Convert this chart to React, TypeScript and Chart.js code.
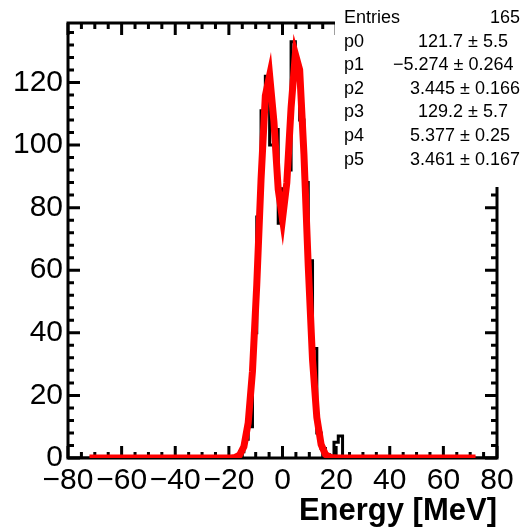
import React, { useEffect, useRef } from "react";
import { Chart, registerables } from "chart.js";

Chart.register(...registerables);

// ---------------- data ----------------
const X_MIN = -80;
const X_MAX = 80;
const N_BINS = 100; // 1.6 MeV bins
const Y_MAX = 139;

// bin contents (100 bins, -80 .. 80)
const binContents = [
  0, 0, 0, 0, 0, 0, 0, 0, 0, 0, // -80 .. -64
  0, 0, 0, 0, 0, 0, 0, 0, 0, 0, // -64 .. -48
  0, 0, 0, 0, 0, 0, 0, 0, 0, 0, // -48 .. -32
  0, 0, 0, 0, 0, 0, 0, 0, 0, 0, // -32 .. -16
  2, 6, 10, 40, 77, 111, 122, 100, 105, 75, // -16 .. 0
  86, 92, 133, 121, 108, 88, 63, 35, 8, 3, // 0 .. 16
  1, 0, 5, 7, 0, 0, 0, 0, 0, 0, // 16 .. 32
  0, 0, 0, 0, 0, 0, 0, 0, 0, 0, // 32 .. 48
  0, 0, 0, 0, 0, 0, 0, 0, 0, 0, // 48 .. 64
  0, 0, 0, 0, 0, 0, 0, 0, 0, 0, // 64 .. 80
];

// fit: double gaussian, parameters as shown in the stats box
const fitParams = [121.7, -5.274, 3.445, 129.2, 5.377, 3.461];
const fitRange = [-72, 72];
const fitNpx = 90;

const xTicks = [-80, -60, -40, -20, 0, 20, 40, 60, 80];
const yTicks = [0, 20, 40, 60, 80, 100, 120];
const xMinorStep = 5;
const yMinorStep = 4;

const xTitle = "Energy [MeV]";
const statNames = ["Entries", "p0", "p1", "p2", "p3", "p4", "p5"];
const statValues = [
  "165",
  "121.7 \u00b1 5.5",
  "\u22125.274 \u00b1 0.264",
  "3.445 \u00b1 0.166",
  "129.2 \u00b1 5.7",
  "5.377 \u00b1 0.25",
  "3.461 \u00b1 0.167",
];

// ---------------- layout / style ----------------
const W = 521;
const H = 527;
const FONT = "'Liberation Sans', Arial, Helvetica, sans-serif";
const statLayout = {
  boxX: 335,
  boxBottom: 187,
  nameX: 344,
  valueX: [490, 418, 393, 410, 418, 410, 410],
  baselines: [23, 47, 70, 94, 117, 141, 165],
  fontSize: 18,
};

const fmt = (v: number) => (v < 0 ? "\u2212" + Math.abs(v) : String(v));

function fitFn(x: number) {
  const [a1, m1, s1, a2, m2, s2] = fitParams;
  return (
    a1 * Math.exp(-0.5 * ((x - m1) / s1) ** 2) +
    a2 * Math.exp(-0.5 * ((x - m2) / s2) ** 2)
  );
}

const rootPlugin = {
  id: "rootStyle",
  beforeDatasetDraw(chart: any) {
    chart.ctx.miterLimit = 20;
  },
  afterDatasetDraw(chart: any, args: any) {
    if (args.index !== 1) return;
    const { ctx, chartArea } = chart;
    const xs = chart.scales.x;
    const ys = chart.scales.y;
    const { left, right, top, bottom } = chartArea;
    ctx.save();
    ctx.strokeStyle = "#000";
    ctx.lineWidth = 3;
    ctx.lineCap = "butt";
    ctx.lineJoin = "miter";
    ctx.beginPath();
    const major = 12;
    const minor = 6;
    for (let v = X_MIN; v <= X_MAX + 1e-9; v += xMinorStep) {
      const px = xs.getPixelForValue(v);
      const len = xTicks.includes(v) ? major : minor;
      ctx.moveTo(px, bottom);
      ctx.lineTo(px, bottom - len);
      ctx.moveTo(px, top);
      ctx.lineTo(px, top + len);
    }
    for (let v = 0; v <= Y_MAX; v += yMinorStep) {
      const py = ys.getPixelForValue(v);
      const len = yTicks.includes(v) ? major : minor;
      ctx.moveTo(left, py);
      ctx.lineTo(left + len, py);
      ctx.moveTo(right, py);
      ctx.lineTo(right - len, py);
    }
    ctx.stroke();
    ctx.strokeRect(left, top, right - left, bottom - top);
    ctx.restore();
  },
  afterDraw(chart: any) {
    const { ctx, chartArea } = chart;
    ctx.save();
    // x title
    ctx.fillStyle = "#000";
    ctx.font = `bold 31px ${FONT}`;
    ctx.textAlign = "right";
    ctx.textBaseline = "alphabetic";
    ctx.fillText(xTitle, chartArea.right, 520);
    // stats box
    ctx.fillStyle = "#fff";
    ctx.fillRect(statLayout.boxX, 0, W - statLayout.boxX, statLayout.boxBottom);
    ctx.fillStyle = "#000";
    ctx.font = `${statLayout.fontSize}px ${FONT}`;
    ctx.textAlign = "left";
    statNames.forEach((n, i) => {
      ctx.fillText(n, statLayout.nameX, statLayout.baselines[i]);
      ctx.fillText(statValues[i], statLayout.valueX[i], statLayout.baselines[i]);
    });
    ctx.restore();
  },
};

export default function App() {
  const ref = useRef<HTMLCanvasElement | null>(null);
  useEffect(() => {
    if (!ref.current) return;
    const binW = (X_MAX - X_MIN) / N_BINS;
    const histPts = binContents.map((v, i) => ({ x: X_MIN + i * binW, y: v }));
    histPts.push({ x: X_MAX, y: binContents[N_BINS - 1] });
    const fitPts: { x: number; y: number }[] = [];
    for (let i = 0; i <= fitNpx; i++) {
      const x = fitRange[0] + ((fitRange[1] - fitRange[0]) * i) / fitNpx;
      fitPts.push({ x, y: fitFn(x) });
    }
    const tickFont = { family: FONT, size: 30, lineHeight: 1.2 };
    const chart = new Chart(ref.current, {
      type: "line",
      data: {
        datasets: [
          {
            label: "fit",
            data: fitPts,
            borderColor: "#ff0000",
            borderWidth: 7,
            pointRadius: 0,
            tension: 0,
            borderJoinStyle: "miter",
            fill: false,
          },
          {
            label: "hist",
            data: histPts,
            borderColor: "#000",
            borderWidth: 3,
            pointRadius: 0,
            stepped: "before",
            borderJoinStyle: "miter",
            fill: false,
          },
        ],
      },
      plugins: [rootPlugin],
      options: {
        animation: false,
        responsive: false,
        events: [],
        layout: { padding: { top: 23, right: 24, left: 0, bottom: 0 } },
        plugins: {
          legend: { display: false },
          tooltip: { enabled: false },
          title: { display: false },
        },
        scales: {
          x: {
            type: "linear",
            min: X_MIN,
            max: X_MAX,
            grid: { display: false, drawTicks: false },
            border: { display: false },
            afterFit: (s: any) => {
              s.height = 69;
            },
            afterBuildTicks: (s: any) => {
              s.ticks = xTicks.map((v) => ({ value: v }));
            },
            ticks: {
              padding: 5,
              maxRotation: 0,
              minRotation: 0,
              autoSkip: false,
              color: "#000",
              font: tickFont,
              callback: (v: any) => fmt(Number(v)),
            },
          },
          y: {
            type: "linear",
            min: 0,
            max: Y_MAX,
            grid: { display: false, drawTicks: false },
            border: { display: false },
            afterFit: (s: any) => {
              s.width = 68;
            },
            afterBuildTicks: (s: any) => {
              s.ticks = yTicks.map((v) => ({ value: v }));
            },
            ticks: {
              padding: 5,
              autoSkip: false,
              color: "#000",
              font: tickFont,
              callback: (v: any) => fmt(Number(v)),
            },
          },
        },
      },
    } as any);
    return () => chart.destroy();
  }, []);
  return (
    <div style={{ position: "fixed", left: 0, top: 0, width: W, height: H, background: "#fff" }}>
      <canvas ref={ref} width={W} height={H} style={{ display: "block" }} />
    </div>
  );
}
